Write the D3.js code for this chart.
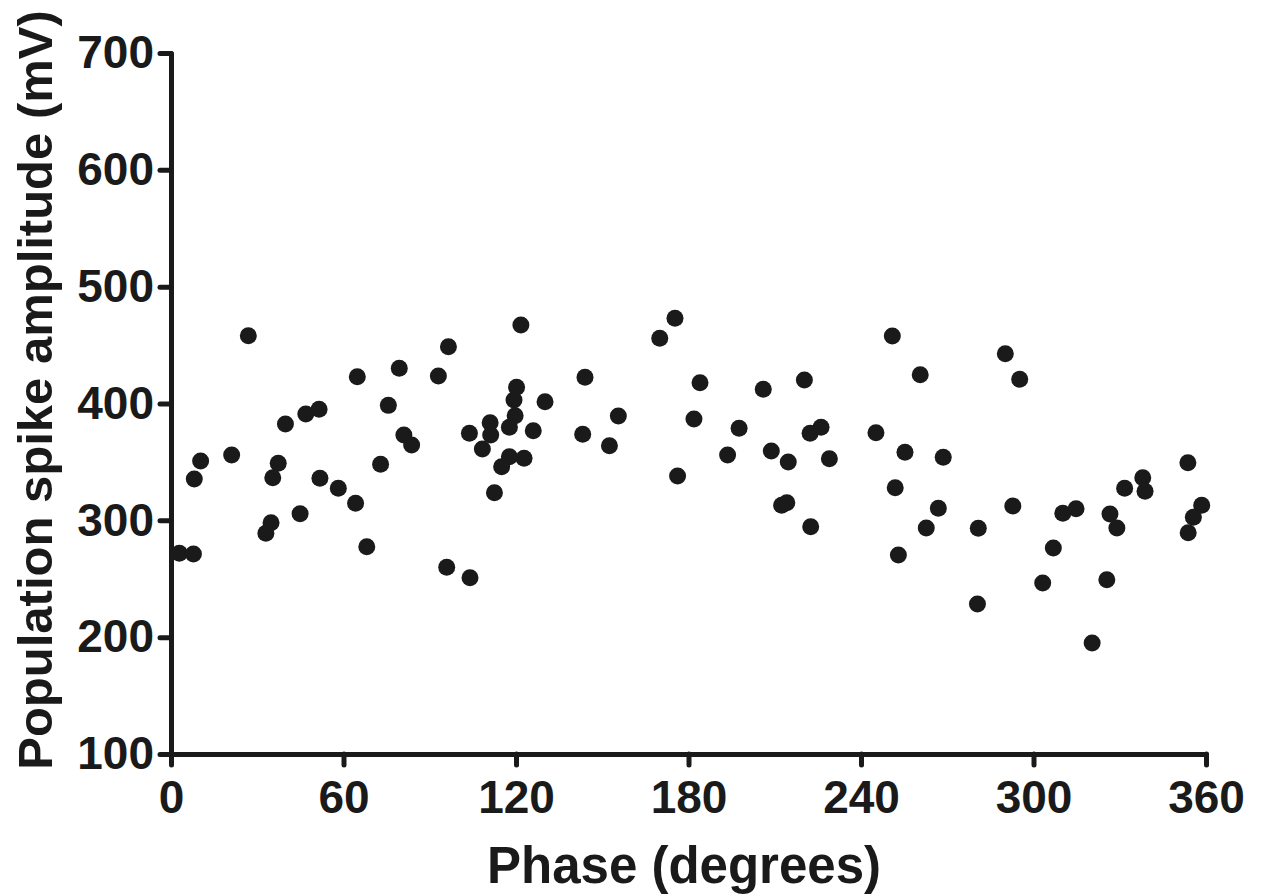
<!DOCTYPE html>
<html>
<head>
<meta charset="utf-8">
<script src="https://cdn.jsdelivr.net/npm/d3@7"></script>
<style>
  html, body { margin: 0; padding: 0; background: #fff; }
  svg { display: block; }
  text { font-family: "Liberation Sans", Arial, sans-serif; font-weight: bold; fill: #1a1a1a; }
</style>
</head>
<body>
<svg id="chart" width="1264" height="896"></svg>
<script>
// Phase (degrees)
const phase = [
  26.9, 121.7, 96.5, 64.8, 79.4, 93.0, 120.2, 119.3, 130.1, 119.7,
  117.7, 111.0, 111.2, 103.8, 108.3, 126.0, 117.7, 122.8, 115.0, 112.5,
  75.6, 81.0, 83.7, 72.9, 46.9, 51.5, 39.8, 37.3, 35.4, 21.1,
  10.3, 8.1, 51.8, 58.2, 64.2, 44.9, 34.8, 33.0, 68.1, 2.9,
  7.8, 95.9, 104.0,
  175.3, 170.0, 144.0, 184.0, 206.0, 220.3, 155.6, 143.2, 152.5, 181.9,
  197.6, 193.6, 176.2, 208.8, 214.7, 222.3, 226.1, 229.0, 212.4, 214.2,
  222.5, 250.9, 260.6, 245.2, 255.3, 268.6, 251.9, 266.9, 262.7, 253.0,
  290.2, 295.2, 280.8, 292.8, 280.5, 306.9, 303.2, 310.2, 314.8, 325.5,
  320.4, 326.6, 329.0, 331.7, 338.0, 338.8, 353.7, 358.5, 355.6, 353.8
];
// Population spike amplitude (mV)
const amplitude = [
  458.0, 467.2, 448.6, 422.9, 430.1, 423.5, 413.9, 403.0, 401.5, 389.6,
  379.6, 383.6, 373.0, 374.5, 361.0, 376.7, 354.5, 353.1, 345.9, 323.6,
  398.4, 373.0, 364.5, 348.0, 391.0, 395.0, 382.4, 348.8, 336.5, 355.9,
  350.8, 335.4, 336.0, 327.4, 314.6, 305.7, 298.0, 288.9, 277.4, 271.8,
  271.2, 259.8, 250.9,
  472.9, 455.8, 422.4, 417.8, 412.2, 420.1, 389.3, 373.6, 363.9, 386.7,
  378.8, 355.9, 337.9, 359.3, 349.9, 374.5, 379.6, 352.7, 312.9, 315.1,
  294.5, 457.8, 424.6, 375.0, 358.2, 353.9, 327.9, 310.3, 293.4, 270.3,
  442.6, 420.7, 293.2, 312.3, 228.4, 276.3, 246.4, 306.0, 310.0, 249.2,
  195.0, 305.4, 293.4, 327.4, 336.5, 324.8, 349.3, 312.9, 302.6, 289.4
];
const xTicks = [0, 60, 120, 180, 240, 300, 360];
const yTicks = [100, 200, 300, 400, 500, 600, 700];
const xTitle = "Phase (degrees)";
const yTitle = "Population spike amplitude (mV)";

const ink = "#1a1a1a";
const svg = d3.select("#chart");
const plotLeft = 171, plotRight = 1206, plotTop = 53, plotBottom = 754;

const x = d3.scaleLinear().domain([0, 360]).range([plotLeft, plotRight]);
const y = d3.scaleLinear().domain([100, 700]).range([plotBottom, plotTop]);

const data = phase.map((p, i) => ({ p, a: amplitude[i] }));

// points
svg.append("g")
  .selectAll("circle")
  .data(data)
  .join("circle")
  .attr("cx", d => x(d.p))
  .attr("cy", d => y(d.a))
  .attr("r", 8.5)
  .attr("fill", ink);

function styleAxis(g) {
  g.select(".domain").attr("stroke", ink).attr("stroke-width", 5)
    .attr("stroke-linecap", "round").attr("stroke-linejoin", "round");
  g.selectAll(".tick line").attr("stroke", ink).attr("stroke-width", 5)
    .attr("stroke-linecap", "round");
  g.selectAll(".tick text").attr("font-size", 46).attr("fill", ink)
    .attr("font-family", "'Liberation Sans', Arial, sans-serif").attr("font-weight", "bold");
}

// x axis
svg.append("g")
  .attr("transform", `translate(0,${plotBottom})`)
  .call(d3.axisBottom(x).tickValues(xTicks).tickSize(11).tickSizeOuter(0).tickPadding(15).tickFormat(d3.format("d")))
  .call(styleAxis);

// y axis
svg.append("g")
  .attr("transform", `translate(${plotLeft},0)`)
  .call(d3.axisLeft(y).tickValues(yTicks).tickSize(11).tickSizeOuter(0).tickPadding(6).tickFormat(d3.format("d")))
  .call(styleAxis);

// titles
svg.append("text")
  .attr("x", 684).attr("y", 883)
  .attr("text-anchor", "middle")
  .attr("font-size", 51)
  .text(xTitle);

svg.append("text")
  .attr("transform", "translate(52,390) rotate(-90)")
  .attr("text-anchor", "middle")
  .attr("font-size", 49)
  .text(yTitle);
</script>
</body>
</html>
